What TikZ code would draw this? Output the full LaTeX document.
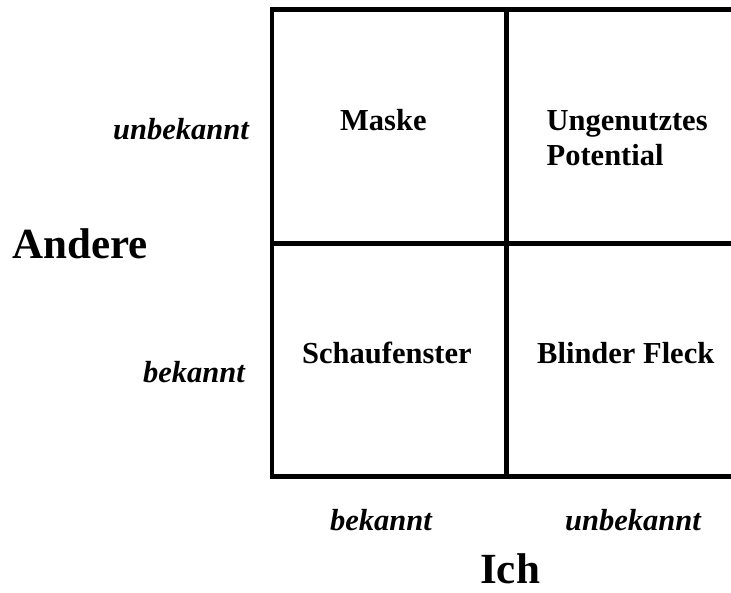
\documentclass[tikz,border=0pt]{standalone}
\usepackage{fontspec}
\setmainfont{Liberation Serif}
\begin{document}
\begin{tikzpicture}[x=1pt,y=-1pt,
  gridline/.style={line width=4.5pt},
  celltext/.style={inner sep=0pt,anchor=base west,font=\bfseries\fontsize{30.5}{34.3}\selectfont,align=left},
  axislabel/.style={inner sep=0pt,anchor=base west,font=\bfseries\itshape\fontsize{30.5}{34.3}\selectfont},
  bigtext/.style={inner sep=0pt,anchor=base west,font=\bfseries\fontsize{43}{48}\selectfont}]
\useasboundingbox (0,0) rectangle (731,592);
\begin{scope}
\clip (0,0) rectangle (731,592);
\coordinate (tl) at (272,9.5);
\coordinate (tr) at (740,9.5);
\coordinate (ml) at (272,243.5);
\coordinate (mr) at (740,243.5);
\coordinate (bl) at (272,476.5);
\coordinate (br) at (740,476.5);
\coordinate (vt) at (506.5,9.5);
\coordinate (vb) at (506.5,476.5);
\draw[gridline,line cap=rect] (tr) -- (tl) -- (bl) -- (br);
\draw[gridline] (ml) -- (mr);
\draw[gridline] (vt) -- (vb);
\end{scope}
\node[celltext] (maske) at (340,130.7) {Maske};
\node[celltext] (ungen) at (546.5,165) {Ungenutztes\\Potential};
\node[celltext] (schau) at (302,363.3) {Schaufenster};
\node[celltext] (blind) at (537,363.3) {Blinder Fleck};
\node[axislabel] (lunb) at (113,139) {unbekannt};
\node[bigtext] (andere) at (12,258) {Andere};
\node[axislabel] (lbek) at (143,382) {bekannt};
\node[axislabel] (bbek) at (330,530.7) {bekannt};
\node[axislabel] (bunb) at (565,530.7) {unbekannt};
\node[bigtext] (ich) at (480,583.5) {Ich};
\end{tikzpicture}
\end{document}
